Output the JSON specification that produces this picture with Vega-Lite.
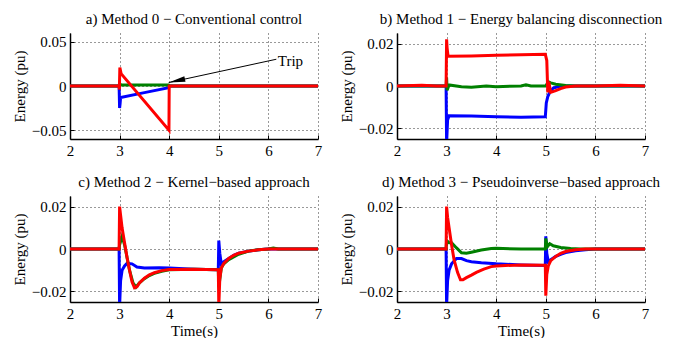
{
  "$schema": "https://vega.github.io/schema/vega-lite/v6.json",
  "padding": {"left": 12, "top": 12, "right": 5, "bottom": 0},
  "background": "white",
  "config": {
    "font": "Liberation Serif",
    "view": {"stroke": null},
    "title": {"font": "Liberation Serif", "fontSize": 15, "fontWeight": "normal", "color": "black", "frame": "group", "anchor": "middle", "offset": 6},
    "axis": {"labelFont": "Liberation Serif", "labelFontSize": 15, "titleFont": "Liberation Serif", "titleFontSize": 15, "titleFontWeight": "normal", "labelColor": "black", "titleColor": "black", "domainColor": "black", "domainWidth": 1.5, "ticks": true, "tickSize": -4, "tickColor": "black", "tickWidth": 1, "labelFlush": false, "labelPadding": 8}
  },
  "spacing": {"row": 17, "column": 17},
  "data": {"values": [
    {"p":"a","s":"1","t":2,"v":0},{"p":"a","s":"1","t":2.99,"v":0},{"p":"a","s":"1","t":3.0,"v":-0.025},{"p":"a","s":"1","t":3.01,"v":-0.02},{"p":"a","s":"1","t":3.02,"v":-0.013},{"p":"a","s":"1","t":3.5,"v":-0.0075},{"p":"a","s":"1","t":3.99,"v":-0.002},{"p":"a","s":"1","t":4.01,"v":0},{"p":"a","s":"1","t":7,"v":0},
    {"p":"a","s":"2","t":2,"v":0},{"p":"a","s":"2","t":2.99,"v":0},{"p":"a","s":"2","t":3.0,"v":0.003},{"p":"a","s":"2","t":3.02,"v":0.0015},{"p":"a","s":"2","t":3.5,"v":0.0012},{"p":"a","s":"2","t":3.99,"v":0.001},{"p":"a","s":"2","t":4.01,"v":0},{"p":"a","s":"2","t":7,"v":0},
    {"p":"a","s":"3","t":2,"v":0},{"p":"a","s":"3","t":2.99,"v":0},{"p":"a","s":"3","t":2.995,"v":-0.004},{"p":"a","s":"3","t":3.005,"v":0.021},{"p":"a","s":"3","t":3.03,"v":0.014},{"p":"a","s":"3","t":3.995,"v":-0.05},{"p":"a","s":"3","t":4.0,"v":0},{"p":"a","s":"3","t":7,"v":0},

    {"p":"b","s":"1","t":2,"v":0},{"p":"b","s":"1","t":2.99,"v":0},{"p":"b","s":"1","t":3.0,"v":-0.027},{"p":"b","s":"1","t":3.02,"v":-0.016},{"p":"b","s":"1","t":3.05,"v":-0.014},{"p":"b","s":"1","t":3.5,"v":-0.0142},{"p":"b","s":"1","t":4,"v":-0.0145},{"p":"b","s":"1","t":4.5,"v":-0.0147},{"p":"b","s":"1","t":4.99,"v":-0.0145},{"p":"b","s":"1","t":5.01,"v":-0.008},{"p":"b","s":"1","t":5.04,"v":-0.005},{"p":"b","s":"1","t":5.08,"v":-0.003},{"p":"b","s":"1","t":5.15,"v":-0.001},{"p":"b","s":"1","t":5.3,"v":0},{"p":"b","s":"1","t":7,"v":0},
    {"p":"b","s":"2","t":2,"v":0},{"p":"b","s":"2","t":2.99,"v":0},{"p":"b","s":"2","t":3.0,"v":0.004},{"p":"b","s":"2","t":3.01,"v":-0.002},{"p":"b","s":"2","t":3.05,"v":0.0005},{"p":"b","s":"2","t":3.3,"v":-0.0003},{"p":"b","s":"2","t":3.5,"v":-0.0006},{"p":"b","s":"2","t":3.8,"v":0},{"p":"b","s":"2","t":4,"v":-0.0003},{"p":"b","s":"2","t":4.5,"v":0},{"p":"b","s":"2","t":4.6,"v":0.0006},{"p":"b","s":"2","t":4.7,"v":0},{"p":"b","s":"2","t":5,"v":0},{"p":"b","s":"2","t":5.05,"v":0.002},{"p":"b","s":"2","t":5.1,"v":0.0015},{"p":"b","s":"2","t":5.2,"v":0.0008},{"p":"b","s":"2","t":5.4,"v":0.0002},{"p":"b","s":"2","t":5.6,"v":0},{"p":"b","s":"2","t":7,"v":0},
    {"p":"b","s":"3","t":2,"v":0},{"p":"b","s":"3","t":2.5,"v":0.0003},{"p":"b","s":"3","t":2.8,"v":0},{"p":"b","s":"3","t":2.99,"v":0},{"p":"b","s":"3","t":3.0,"v":0.022},{"p":"b","s":"3","t":3.01,"v":0.018},{"p":"b","s":"3","t":3.03,"v":0.014},{"p":"b","s":"3","t":3.5,"v":0.0142},{"p":"b","s":"3","t":4,"v":0.0145},{"p":"b","s":"3","t":4.5,"v":0.0147},{"p":"b","s":"3","t":4.99,"v":0.015},{"p":"b","s":"3","t":5.02,"v":0.012},{"p":"b","s":"3","t":5.04,"v":-0.003},{"p":"b","s":"3","t":5.06,"v":0.002},{"p":"b","s":"3","t":5.1,"v":-0.003},{"p":"b","s":"3","t":5.2,"v":-0.0022},{"p":"b","s":"3","t":5.3,"v":-0.0012},{"p":"b","s":"3","t":5.4,"v":-0.0005},{"p":"b","s":"3","t":5.6,"v":0},{"p":"b","s":"3","t":6,"v":0},{"p":"b","s":"3","t":6.5,"v":0.0003},{"p":"b","s":"3","t":7,"v":0},

    {"p":"c","s":"1","t":2,"v":0},{"p":"c","s":"1","t":2.99,"v":0},{"p":"c","s":"1","t":3.0,"v":-0.027},{"p":"c","s":"1","t":3.02,"v":-0.015},{"p":"c","s":"1","t":3.05,"v":-0.01},{"p":"c","s":"1","t":3.1,"v":-0.008},{"p":"c","s":"1","t":3.15,"v":-0.0068},{"p":"c","s":"1","t":3.25,"v":-0.007},{"p":"c","s":"1","t":3.35,"v":-0.0085},{"p":"c","s":"1","t":3.5,"v":-0.009},{"p":"c","s":"1","t":3.8,"v":-0.0088},{"p":"c","s":"1","t":4,"v":-0.009},{"p":"c","s":"1","t":4.5,"v":-0.0095},{"p":"c","s":"1","t":4.99,"v":-0.0098},{"p":"c","s":"1","t":5.0,"v":0.004},{"p":"c","s":"1","t":5.02,"v":-0.002},{"p":"c","s":"1","t":5.05,"v":-0.007},{"p":"c","s":"1","t":5.1,"v":-0.006},{"p":"c","s":"1","t":5.2,"v":-0.0045},{"p":"c","s":"1","t":5.3,"v":-0.003},{"p":"c","s":"1","t":5.4,"v":-0.002},{"p":"c","s":"1","t":5.6,"v":-0.001},{"p":"c","s":"1","t":5.8,"v":-0.0004},{"p":"c","s":"1","t":6,"v":0},{"p":"c","s":"1","t":7,"v":0},
    {"p":"c","s":"2","t":2,"v":0},{"p":"c","s":"2","t":2.99,"v":0},{"p":"c","s":"2","t":3.0,"v":0.002},{"p":"c","s":"2","t":3.05,"v":0.006},{"p":"c","s":"2","t":3.1,"v":0.002},{"p":"c","s":"2","t":3.15,"v":-0.004},{"p":"c","s":"2","t":3.2,"v":-0.01},{"p":"c","s":"2","t":3.27,"v":-0.016},{"p":"c","s":"2","t":3.33,"v":-0.018},{"p":"c","s":"2","t":3.4,"v":-0.016},{"p":"c","s":"2","t":3.5,"v":-0.014},{"p":"c","s":"2","t":3.6,"v":-0.0125},{"p":"c","s":"2","t":3.7,"v":-0.0115},{"p":"c","s":"2","t":3.85,"v":-0.0105},{"p":"c","s":"2","t":4,"v":-0.0098},{"p":"c","s":"2","t":4.5,"v":-0.0095},{"p":"c","s":"2","t":4.99,"v":-0.0098},{"p":"c","s":"2","t":5.0,"v":-0.018},{"p":"c","s":"2","t":5.05,"v":-0.009},{"p":"c","s":"2","t":5.1,"v":-0.007},{"p":"c","s":"2","t":5.2,"v":-0.005},{"p":"c","s":"2","t":5.4,"v":-0.0025},{"p":"c","s":"2","t":5.6,"v":-0.001},{"p":"c","s":"2","t":5.8,"v":-0.0003},{"p":"c","s":"2","t":6,"v":0},{"p":"c","s":"2","t":6.1,"v":0.0005},{"p":"c","s":"2","t":6.2,"v":0},{"p":"c","s":"2","t":7,"v":0},
    {"p":"c","s":"3","t":2,"v":0},{"p":"c","s":"3","t":2.99,"v":0},{"p":"c","s":"3","t":3.0,"v":0.02},{"p":"c","s":"3","t":3.02,"v":0.016},{"p":"c","s":"3","t":3.05,"v":0.01},{"p":"c","s":"3","t":3.1,"v":0.003},{"p":"c","s":"3","t":3.15,"v":-0.004},{"p":"c","s":"3","t":3.2,"v":-0.01},{"p":"c","s":"3","t":3.25,"v":-0.0155},{"p":"c","s":"3","t":3.3,"v":-0.0183},{"p":"c","s":"3","t":3.35,"v":-0.0178},{"p":"c","s":"3","t":3.4,"v":-0.016},{"p":"c","s":"3","t":3.5,"v":-0.0138},{"p":"c","s":"3","t":3.6,"v":-0.0122},{"p":"c","s":"3","t":3.7,"v":-0.0112},{"p":"c","s":"3","t":3.85,"v":-0.0102},{"p":"c","s":"3","t":4,"v":-0.0097},{"p":"c","s":"3","t":4.5,"v":-0.0095},{"p":"c","s":"3","t":4.99,"v":-0.0098},{"p":"c","s":"3","t":5.0,"v":-0.027},{"p":"c","s":"3","t":5.02,"v":-0.014},{"p":"c","s":"3","t":5.05,"v":-0.009},{"p":"c","s":"3","t":5.1,"v":-0.0068},{"p":"c","s":"3","t":5.2,"v":-0.0045},{"p":"c","s":"3","t":5.3,"v":-0.003},{"p":"c","s":"3","t":5.4,"v":-0.002},{"p":"c","s":"3","t":5.6,"v":-0.001},{"p":"c","s":"3","t":5.8,"v":-0.0004},{"p":"c","s":"3","t":6,"v":0},{"p":"c","s":"3","t":7,"v":0},

    {"p":"d","s":"1","t":2,"v":0},{"p":"d","s":"1","t":2.99,"v":0},{"p":"d","s":"1","t":3.0,"v":-0.027},{"p":"d","s":"1","t":3.02,"v":-0.015},{"p":"d","s":"1","t":3.05,"v":-0.01},{"p":"d","s":"1","t":3.1,"v":-0.007},{"p":"d","s":"1","t":3.2,"v":-0.0045},{"p":"d","s":"1","t":3.3,"v":-0.0045},{"p":"d","s":"1","t":3.4,"v":-0.0055},{"p":"d","s":"1","t":3.5,"v":-0.006},{"p":"d","s":"1","t":3.7,"v":-0.0065},{"p":"d","s":"1","t":4,"v":-0.007},{"p":"d","s":"1","t":4.5,"v":-0.0075},{"p":"d","s":"1","t":4.99,"v":-0.0078},{"p":"d","s":"1","t":5.0,"v":0.006},{"p":"d","s":"1","t":5.02,"v":-0.002},{"p":"d","s":"1","t":5.05,"v":-0.006},{"p":"d","s":"1","t":5.1,"v":-0.005},{"p":"d","s":"1","t":5.2,"v":-0.0035},{"p":"d","s":"1","t":5.3,"v":-0.0025},{"p":"d","s":"1","t":5.4,"v":-0.0017},{"p":"d","s":"1","t":5.6,"v":-0.0008},{"p":"d","s":"1","t":5.8,"v":-0.0003},{"p":"d","s":"1","t":6,"v":0},{"p":"d","s":"1","t":7,"v":0},
    {"p":"d","s":"2","t":2,"v":0},{"p":"d","s":"2","t":2.99,"v":0},{"p":"d","s":"2","t":3.0,"v":0.004},{"p":"d","s":"2","t":3.05,"v":0.003},{"p":"d","s":"2","t":3.1,"v":0.003},{"p":"d","s":"2","t":3.2,"v":0.0005},{"p":"d","s":"2","t":3.3,"v":-0.0018},{"p":"d","s":"2","t":3.4,"v":-0.002},{"p":"d","s":"2","t":3.5,"v":-0.0015},{"p":"d","s":"2","t":3.7,"v":-0.0005},{"p":"d","s":"2","t":3.9,"v":0.0002},{"p":"d","s":"2","t":4,"v":0.0003},{"p":"d","s":"2","t":4.5,"v":0},{"p":"d","s":"2","t":4.99,"v":0},{"p":"d","s":"2","t":5.0,"v":0.005},{"p":"d","s":"2","t":5.03,"v":0.001},{"p":"d","s":"2","t":5.08,"v":0.0025},{"p":"d","s":"2","t":5.15,"v":0.0015},{"p":"d","s":"2","t":5.3,"v":0.0007},{"p":"d","s":"2","t":5.5,"v":0.0002},{"p":"d","s":"2","t":5.7,"v":0},{"p":"d","s":"2","t":7,"v":0},
    {"p":"d","s":"3","t":2,"v":0},{"p":"d","s":"3","t":2.99,"v":0},{"p":"d","s":"3","t":3.0,"v":0.02},{"p":"d","s":"3","t":3.02,"v":0.015},{"p":"d","s":"3","t":3.05,"v":0.01},{"p":"d","s":"3","t":3.1,"v":0.002},{"p":"d","s":"3","t":3.15,"v":-0.005},{"p":"d","s":"3","t":3.22,"v":-0.011},{"p":"d","s":"3","t":3.28,"v":-0.0145},{"p":"d","s":"3","t":3.33,"v":-0.0145},{"p":"d","s":"3","t":3.4,"v":-0.0135},{"p":"d","s":"3","t":3.5,"v":-0.0123},{"p":"d","s":"3","t":3.6,"v":-0.011},{"p":"d","s":"3","t":3.75,"v":-0.0095},{"p":"d","s":"3","t":3.9,"v":-0.0083},{"p":"d","s":"3","t":4,"v":-0.008},{"p":"d","s":"3","t":4.5,"v":-0.0075},{"p":"d","s":"3","t":4.99,"v":-0.0077},{"p":"d","s":"3","t":5.0,"v":-0.022},{"p":"d","s":"3","t":5.02,"v":-0.012},{"p":"d","s":"3","t":5.05,"v":-0.008},{"p":"d","s":"3","t":5.1,"v":-0.0055},{"p":"d","s":"3","t":5.2,"v":-0.0035},{"p":"d","s":"3","t":5.3,"v":-0.002},{"p":"d","s":"3","t":5.4,"v":-0.0012},{"p":"d","s":"3","t":5.6,"v":-0.0004},{"p":"d","s":"3","t":5.8,"v":0},{"p":"d","s":"3","t":7,"v":0}
  ]},
  "columns": 2,
  "concat": [
    {
      "width": 248, "height": 106,
      "title": "a) Method 0 − Conventional control",
      "layer": [
        {
          "transform": [{"filter": "datum.p === 'a'"}],
          "mark": {"type": "line", "strokeWidth": 3, "clip": true},
          "encoding": {
            "x": {"field": "t", "type": "quantitative", "scale": {"domain": [2, 7], "nice": false}, "axis": {"values": [2,3,4,5,6,7], "title": null, "grid": true, "gridDash": [1, 3], "gridColor": "#000", "gridOpacity": 0.8}},
            "y": {"field": "v", "type": "quantitative", "scale": {"domain": [-0.06, 0.06], "nice": false}, "axis": {"values": [-0.05, 0, 0.05], "format": "~g", "title": "Energy (pu)", "grid": true, "gridDash": [1, 3], "gridColor": "#000", "gridOpacity": 0.8}},
            "color": {"field": "s", "type": "nominal", "scale": {"domain": ["1","2","3"], "range": ["#0000ff", "#008000", "#ff0000"]}, "legend": null}
          }
        },
        {
          "data": {"values": [{"t": 3.99, "v": 0.0039, "t2": 6.16, "v2": 0.0303}]},
          "mark": {"type": "rule", "color": "black", "strokeWidth": 1},
          "encoding": {"x": {"field": "t", "type": "quantitative"}, "y": {"field": "v", "type": "quantitative"}, "x2": {"field": "t2"}, "y2": {"field": "v2"}}
        },
        {
          "data": {"values": [{"t": 3.99, "v": 0.0039}]},
          "mark": {"type": "point", "shape": "M0,0L1,-0.17L1,0.17Z", "filled": true, "color": "black", "opacity": 1, "size": 1100, "angle": -12},
          "encoding": {"x": {"field": "t", "type": "quantitative"}, "y": {"field": "v", "type": "quantitative"}}
        },
        {
          "data": {"values": [{"t": 6.19, "v": 0.0284, "label": "Trip"}]},
          "mark": {"type": "text", "font": "Liberation Serif", "fontSize": 15, "align": "left", "baseline": "middle", "color": "black"},
          "encoding": {"x": {"field": "t", "type": "quantitative"}, "y": {"field": "v", "type": "quantitative"}, "text": {"field": "label"}}
        }
      ]
    },
    {
      "width": 248, "height": 106,
      "title": "b) Method 1 − Energy balancing disconnection",
      "transform": [{"filter": "datum.p === 'b'"}],
      "mark": {"type": "line", "strokeWidth": 3, "clip": true},
      "encoding": {
        "x": {"field": "t", "type": "quantitative", "scale": {"domain": [2, 7], "nice": false}, "axis": {"values": [2,3,4,5,6,7], "title": null, "grid": true, "gridDash": [1, 3], "gridColor": "#000", "gridOpacity": 0.8}},
        "y": {"field": "v", "type": "quantitative", "scale": {"domain": [-0.025, 0.025], "nice": false}, "axis": {"values": [-0.02, 0, 0.02], "format": "~g", "title": "Energy (pu)", "grid": true, "gridDash": [1, 3], "gridColor": "#000", "gridOpacity": 0.8}},
        "color": {"field": "s", "type": "nominal", "scale": {"domain": ["1","2","3"], "range": ["#0000ff", "#008000", "#ff0000"]}, "legend": null}
      }
    },
    {
      "width": 248, "height": 106,
      "title": "c) Method 2 − Kernel−based approach",
      "transform": [{"filter": "datum.p === 'c'"}],
      "mark": {"type": "line", "strokeWidth": 3, "clip": true},
      "encoding": {
        "x": {"field": "t", "type": "quantitative", "scale": {"domain": [2, 7], "nice": false}, "axis": {"values": [2,3,4,5,6,7], "title": "Time(s)", "titlePadding": 2, "grid": true, "gridDash": [1, 3], "gridColor": "#000", "gridOpacity": 0.8}},
        "y": {"field": "v", "type": "quantitative", "scale": {"domain": [-0.025, 0.025], "nice": false}, "axis": {"values": [-0.02, 0, 0.02], "format": "~g", "title": "Energy (pu)", "grid": true, "gridDash": [1, 3], "gridColor": "#000", "gridOpacity": 0.8}},
        "color": {"field": "s", "type": "nominal", "scale": {"domain": ["1","2","3"], "range": ["#0000ff", "#008000", "#ff0000"]}, "legend": null}
      }
    },
    {
      "width": 248, "height": 106,
      "title": "d) Method 3 − Pseudoinverse−based approach",
      "transform": [{"filter": "datum.p === 'd'"}],
      "mark": {"type": "line", "strokeWidth": 3, "clip": true},
      "encoding": {
        "x": {"field": "t", "type": "quantitative", "scale": {"domain": [2, 7], "nice": false}, "axis": {"values": [2,3,4,5,6,7], "title": "Time(s)", "titlePadding": 2, "grid": true, "gridDash": [1, 3], "gridColor": "#000", "gridOpacity": 0.8}},
        "y": {"field": "v", "type": "quantitative", "scale": {"domain": [-0.025, 0.025], "nice": false}, "axis": {"values": [-0.02, 0, 0.02], "format": "~g", "title": "Energy (pu)", "grid": true, "gridDash": [1, 3], "gridColor": "#000", "gridOpacity": 0.8}},
        "color": {"field": "s", "type": "nominal", "scale": {"domain": ["1","2","3"], "range": ["#0000ff", "#008000", "#ff0000"]}, "legend": null}
      }
    }
  ]
}
